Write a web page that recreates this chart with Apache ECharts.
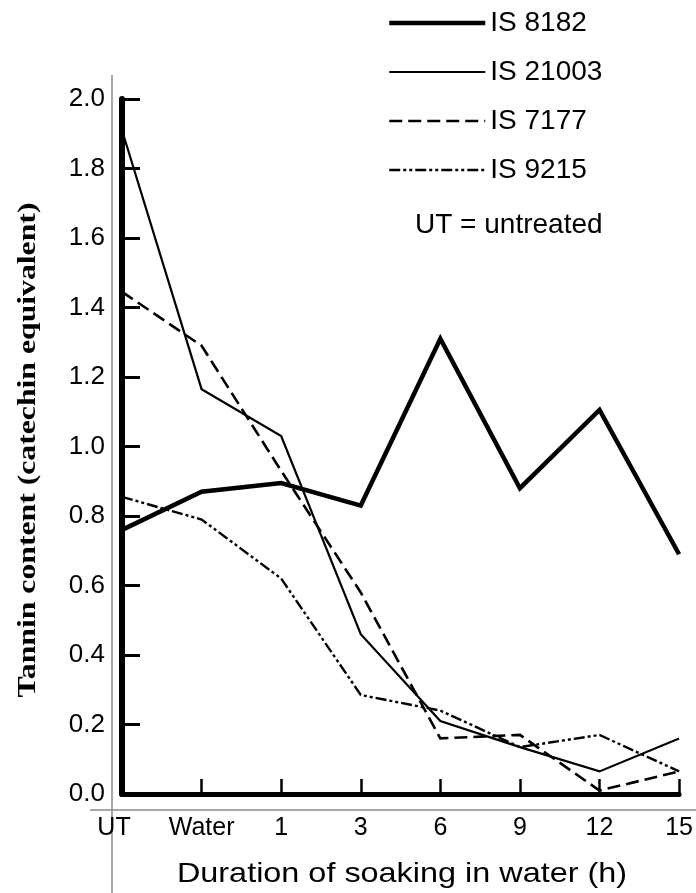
<!DOCTYPE html>
<html>
<head>
<meta charset="utf-8">
<script src="https://cdn.jsdelivr.net/npm/echarts@6/dist/echarts.min.js"></script>
<style>
  html, body { margin: 0; padding: 0; background: #fff; }
  #chart { width: 696px; height: 893px; }
</style>
</head>
<body>
<div id="chart"></div>
<script>
// ---- data ----
const categories = ['UT', 'Water', '1', '3', '6', '9', '12', '15'];
const is8182  = [0.76, 0.87, 0.895, 0.83, 1.31, 0.88, 1.105, 0.69];
const is21003 = [1.91, 1.165, 1.03, 0.46, 0.21, 0.135, 0.065, 0.16];
const is7177  = [1.445, 1.29, 0.93, 0.58, 0.16, 0.17, 0.01, 0.065];
const is9215  = [0.855, 0.79, 0.62, 0.285, 0.24, 0.135, 0.17, 0.065];
const seriesNames = ['IS 8182', 'IS 21003', 'IS 7177', 'IS 9215'];
const yTicks = { min: 0, max: 2.0, interval: 0.2 };
const xTitle = 'Duration of soaking in water (h)';
const yTitle = 'Tannin content (catechin equivalent)';
const note = 'UT = untreated';

const SANS = '"Liberation Sans", Arial, Helvetica, sans-serif';
const SERIF = '"Liberation Serif", "Times New Roman", Times, serif';

const chart = echarts.init(document.getElementById('chart'), null, { renderer: 'canvas' });

function lineSeries(name, data, width, dash) {
  return {
    name: name,
    type: 'line',
    data: data,
    symbol: 'none',
    showSymbol: false,
    smooth: false,
    lineStyle: { color: '#000', width: width, type: dash || 'solid', cap: 'butt', join: 'miter' },
    itemStyle: { color: '#000' },
    z: 3
  };
}

chart.setOption({
  animation: false,
  backgroundColor: '#fff',
  grid: { left: 122, right: 13, top: 99, bottom: 99, containLabel: false },
  legend: {
    orient: 'vertical',
    left: 382,
    top: 3,
    itemWidth: 96,
    itemHeight: 30,
    itemGap: 19,
    data: seriesNames,
    lineStyle: { width: 'inherit' },
    itemStyle: { opacity: 0 },
    textStyle: { fontFamily: SANS, fontSize: 28, color: '#000', lineHeight: 30 },
    selectedMode: false
  },
  xAxis: {
    type: 'category',
    data: categories,
    boundaryGap: false,
    axisLine: { show: true, lineStyle: { color: '#000', width: 5 } },
    axisTick: { show: true, inside: true, length: 15, alignWithLabel: true, lineStyle: { color: '#000', width: 2.5 } },
    axisLabel: {
      fontFamily: SANS, fontSize: 25, color: '#000', margin: 22, interval: 0,
      formatter: v => v === 'UT' ? '{ut|' + v + '}' : v,
      rich: { ut: { fontFamily: SANS, fontSize: 25, color: '#000', padding: [0, 16, 0, 0] } }
    },
    splitLine: { show: false }
  },
  yAxis: {
    type: 'value',
    min: yTicks.min,
    max: yTicks.max,
    interval: yTicks.interval,
    axisLine: { show: true, lineStyle: { color: '#000', width: 6 } },
    axisTick: { show: true, inside: true, length: 18, lineStyle: { color: '#000', width: 3 } },
    axisLabel: { fontFamily: SANS, fontSize: 26, color: '#000', margin: 17, formatter: v => v.toFixed(1) },
    splitLine: { show: false }
  },
  series: [
    lineSeries(seriesNames[0], is8182, 4.5),
    lineSeries(seriesNames[1], is21003, 2.2),
    lineSeries(seriesNames[2], is7177, 2.6, [13, 6]),
    lineSeries(seriesNames[3], is9215, 2.4, [11, 3, 3, 3, 3, 3])
  ],
  graphic: [
    { type: 'line', z: 0, shape: { x1: 112, y1: 75, x2: 112, y2: 893 }, style: { stroke: '#888', lineWidth: 1.5 } },
    { type: 'line', z: 0, shape: { x1: 90, y1: 810, x2: 696, y2: 810 }, style: { stroke: '#888', lineWidth: 1.5 } },
    { type: 'text', left: 415, top: 211, style: { text: note, font: '28px ' + SANS, fill: '#000' } },
    { type: 'text', x: 402, y: 874, scaleX: 1.157,
      style: { text: xTitle, font: '28px ' + SANS, fill: '#000', textAlign: 'center', textVerticalAlign: 'middle' } },
    { type: 'text', x: 28, y: 450, rotation: Math.PI / 2, scaleX: 1.22,
      style: { text: yTitle, font: 'bold 26px ' + SERIF, fill: '#000', textAlign: 'center', textVerticalAlign: 'middle' } }
  ]
});
</script>
</body>
</html>
